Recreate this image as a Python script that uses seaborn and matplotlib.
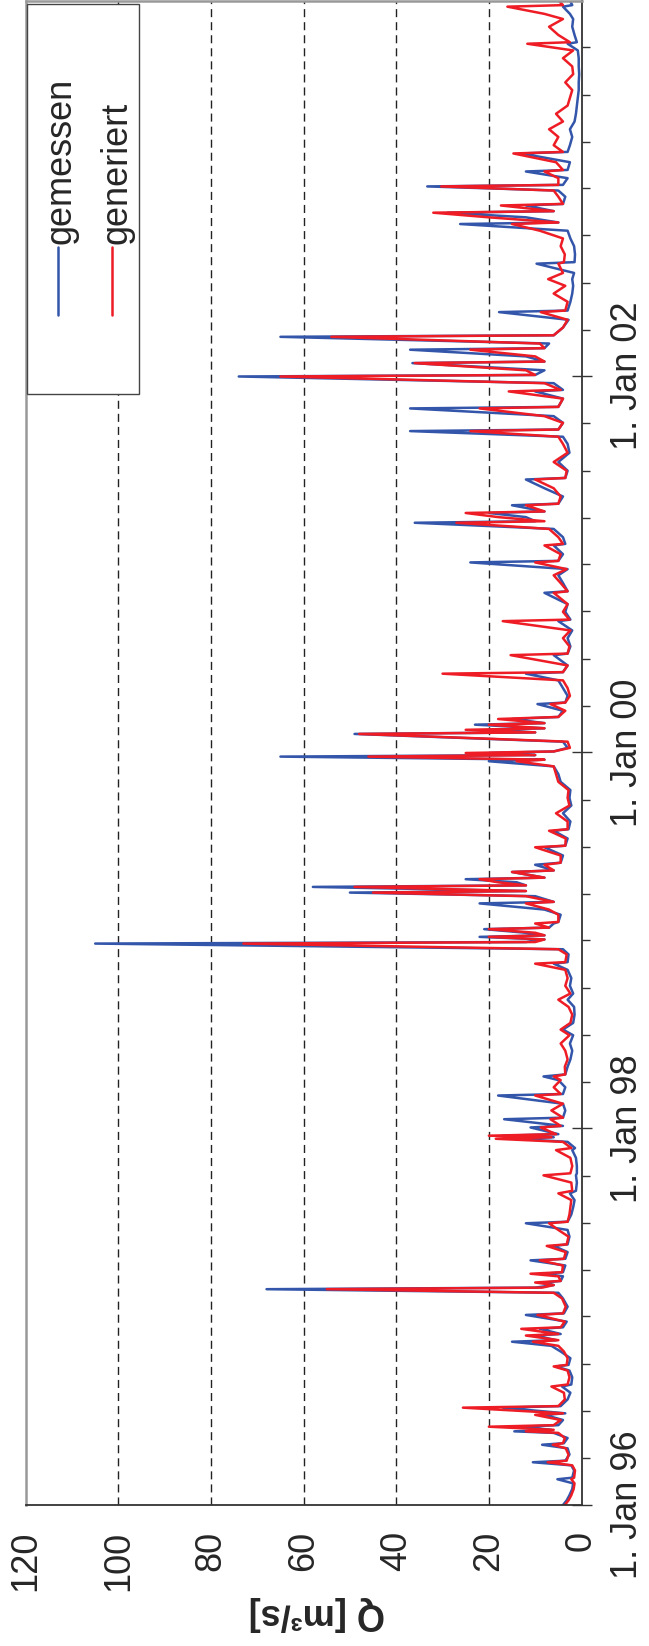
import matplotlib
matplotlib.use("Agg")
import matplotlib.pyplot as plt
import matplotlib.dates as mdates
from matplotlib.ticker import MultipleLocator
from matplotlib.patches import Rectangle
import pandas as pd
import seaborn as sns

# Abfluss, gemessen vs. generiert
dates = [
    # 1996
    "1996-01-01", "1996-01-10", "1996-01-20", "1996-02-01", "1996-02-12", "1996-02-20", "1996-02-23", "1996-03-08", "1996-03-18", "1996-03-24",
    "1996-03-27", "1996-04-08", "1996-04-20", "1996-04-27", "1996-04-30", "1996-05-10", "1996-05-20", "1996-05-23", "1996-05-26", "1996-06-01",
    "1996-06-04", "1996-06-14", "1996-06-24", "1996-06-27", "1996-07-08", "1996-07-11", "1996-07-24", "1996-08-06", "1996-08-18", "1996-08-22",
    "1996-09-05", "1996-09-18", "1996-09-26", "1996-09-29", "1996-10-12", "1996-10-25", "1996-11-05", "1996-11-13", "1996-11-16", "1996-11-25",
    "1996-11-28", "1996-12-08", "1996-12-11", "1996-12-22",
    # 1997
    "1997-01-04", "1997-01-07", "1997-01-20", "1997-02-05", "1997-02-16", "1997-02-23", "1997-02-26", "1997-03-03", "1997-03-08", "1997-03-11",
    "1997-03-20", "1997-03-25", "1997-03-28", "1997-04-10", "1997-04-20", "1997-04-23", "1997-05-06", "1997-05-18", "1997-05-21", "1997-06-05",
    "1997-06-18", "1997-07-01", "1997-07-04", "1997-07-18", "1997-08-01", "1997-08-15", "1997-08-28", "1997-09-02", "1997-09-18", "1997-10-02",
    "1997-10-06", "1997-10-20", "1997-11-05", "1997-11-20", "1997-11-24", "1997-12-06", "1997-12-12", "1997-12-15", "1997-12-18", "1997-12-21",
    # 1998
    "1998-01-03", "1998-01-06", "1998-01-19", "1998-01-22", "1998-02-05", "1998-02-18", "1998-03-06", "1998-03-09", "1998-03-22", "1998-04-05",
    "1998-04-12", "1998-04-16", "1998-05-01", "1998-05-15", "1998-06-01", "1998-06-15", "1998-07-01", "1998-07-12", "1998-07-25", "1998-08-10",
    "1998-08-25", "1998-09-08", "1998-09-20", "1998-10-05", "1998-10-20", "1998-11-05", "1998-11-17", "1998-11-20", "1998-12-05", "1998-12-15",
    "1998-12-26", "1998-12-29",
    # 1999
    "1999-01-03", "1999-01-08", "1999-01-11", "1999-01-16", "1999-01-23", "1999-01-26", "1999-02-03", "1999-02-06", "1999-02-20", "1999-03-02",
    "1999-03-14", "1999-03-17", "1999-03-28", "1999-04-04", "1999-04-07", "1999-04-15", "1999-04-18", "1999-04-24", "1999-04-30", "1999-05-03",
    "1999-05-14", "1999-05-17", "1999-05-28", "1999-06-01", "1999-06-15", "1999-07-01", "1999-07-04", "1999-07-18", "1999-08-02", "1999-08-05",
    "1999-08-20", "1999-09-05", "1999-09-20", "1999-10-05", "1999-10-20", "1999-11-05", "1999-11-20", "1999-12-05", "1999-12-15", "1999-12-18",
    "1999-12-24", "1999-12-27", "1999-12-31",
    # 2000
    "2000-01-03", "2000-01-10", "2000-01-22", "2000-02-06", "2000-02-09", "2000-02-14", "2000-02-17", "2000-02-24", "2000-02-27", "2000-03-06",
    "2000-03-10", "2000-03-22", "2000-04-04", "2000-04-07", "2000-04-20", "2000-05-05", "2000-05-20", "2000-06-02", "2000-06-05", "2000-06-18",
    "2000-07-08", "2000-07-11", "2000-07-25", "2000-08-10", "2000-08-25", "2000-09-12", "2000-09-15", "2000-09-30", "2000-10-15", "2000-11-06",
    "2000-11-09", "2000-11-25", "2000-12-10", "2000-12-22",
    # 2001
    "2001-01-04", "2001-01-07", "2001-01-20", "2001-02-06", "2001-02-09", "2001-02-22", "2001-03-10", "2001-03-22", "2001-03-25", "2001-04-02",
    "2001-04-10", "2001-04-13", "2001-04-25", "2001-04-28", "2001-05-12", "2001-05-28", "2001-06-14", "2001-06-17", "2001-07-01", "2001-07-18",
    "2001-08-05", "2001-08-22", "2001-09-05", "2001-09-16", "2001-09-19", "2001-10-02", "2001-10-15", "2001-10-30", "2001-11-02", "2001-11-18",
    "2001-12-02", "2001-12-05", "2001-12-18", "2001-12-31",
    # 2002
    "2002-01-03", "2002-01-12", "2002-01-26", "2002-01-29", "2002-02-08", "2002-02-21", "2002-02-24", "2002-03-05", "2002-03-18", "2002-03-21",
    "2002-04-05", "2002-04-20", "2002-05-05", "2002-05-08", "2002-05-25", "2002-06-10", "2002-06-25", "2002-07-08", "2002-07-20", "2002-08-07",
    "2002-08-10", "2002-08-25", "2002-09-10", "2002-09-25", "2002-10-10", "2002-10-23", "2002-10-26", "2002-11-05", "2002-11-14", "2002-11-17",
    "2002-11-28", "2002-12-01", "2002-12-15", "2002-12-27",
    # 2003
    "2003-01-04", "2003-01-07", "2003-01-20", "2003-02-02", "2003-02-05", "2003-02-20", "2003-03-09", "2003-03-12", "2003-03-25", "2003-04-10",
    "2003-04-25", "2003-05-10", "2003-05-25", "2003-06-10", "2003-06-25", "2003-07-10", "2003-07-25", "2003-08-10", "2003-08-25", "2003-09-10",
    "2003-09-25", "2003-10-08", "2003-10-11", "2003-10-25", "2003-11-10", "2003-11-25", "2003-12-05", "2003-12-19", "2003-12-22", "2003-12-31",
]

gemessen = [
    # 1996
    4.0, 3.2, 2.6, 2.0, 1.8, 5.2, 2.0, 1.6, 2.2, 10.5,
    3.5, 2.6, 3.0, 8.5, 3.8, 3.0, 6.0, 14.5, 6.5, 13.0,
    5.0, 4.0, 8.0, 3.5, 17.0, 4.5, 3.0, 2.4, 4.2, 2.2,
    2.0, 2.6, 5.5, 2.8, 2.4, 4.5, 6.5, 15.0, 5.5, 10.0,
    4.5, 9.0, 4.0, 3.2,
    # 1997
    12.0, 3.8, 3.0, 4.0, 5.0, 68.0, 10.0, 6.0, 8.0, 4.5,
    4.0, 8.0, 4.0, 3.5, 11.0, 3.5, 3.0, 6.0, 3.0, 2.6,
    3.0, 12.0, 3.0, 2.2, 1.8, 1.5, 2.5, 1.2, 1.0, 1.2,
    1.0, 1.0, 1.2, 2.0, 1.4, 3.0, 14.0, 6.0, 17.0, 5.0,
    # 1998
    11.0, 4.0, 16.7, 4.0, 3.5, 4.0, 18.0, 4.0, 3.5, 5.0,
    8.2, 3.5, 3.0, 2.4, 2.0, 2.5, 1.8, 4.0, 1.8, 1.5,
    1.6, 3.0, 1.8, 2.5, 2.2, 3.0, 6.0, 3.0, 2.8, 4.0,
    105.0, 12.0,
    # 1999
    8.0, 22.0, 8.0, 12.0, 21.0, 7.0, 6.0, 5.0, 4.5, 8.0,
    22.0, 6.0, 10.0, 50.0, 12.0, 58.0, 12.0, 14.0, 25.0, 8.0,
    15.0, 6.0, 10.0, 4.5, 4.0, 8.0, 3.5, 3.0, 6.0, 2.8,
    2.4, 4.0, 2.2, 2.6, 2.4, 4.5, 5.0, 6.0, 20.0, 8.0,
    65.0, 10.0, 20.0,
    # 2000
    6.0, 3.0, 4.0, 49.0, 10.0, 20.0, 8.0, 23.0, 8.0, 15.0,
    5.0, 4.0, 9.5, 3.5, 3.0, 4.0, 5.0, 12.0, 4.0, 3.0,
    6.0, 3.0, 2.4, 3.0, 2.0, 5.0, 2.4, 3.5, 3.0, 8.0,
    3.0, 4.0, 5.0, 3.0,
    # 2001
    24.0, 5.0, 4.0, 6.0, 3.5, 4.0, 6.0, 36.0, 10.0, 12.0,
    20.0, 8.0, 15.0, 5.0, 4.0, 8.0, 12.0, 3.5, 3.0, 5.0,
    2.6, 3.0, 4.0, 37.0, 5.0, 4.0, 6.0, 37.0, 5.0, 4.0,
    10.0, 4.0, 6.0, 74.0,
    # 2002
    10.0, 8.0, 36.5, 8.0, 12.0, 37.0, 8.0, 7.0, 65.0, 6.0,
    4.0, 2.8, 17.8, 3.0, 2.4, 2.0, 1.8, 2.0, 1.6, 9.7,
    1.5, 1.4, 1.6, 2.4, 3.0, 26.2, 5.0, 12.0, 28.9, 6.0,
    12.0, 4.0, 3.5, 5.0,
    # 2003
    33.3, 4.0, 3.0, 12.0, 3.0, 2.5, 13.0, 3.0, 2.5, 2.0,
    2.5, 1.5, 1.2, 1.0, 0.8, 0.6, 0.6, 0.5, 0.6, 0.6,
    0.8, 3.0, 1.0, 1.5, 2.0, 1.8, 2.5, 4.0, 2.0, 2.5,
]

generiert = [
    # 1996
    3.6, 2.8, 2.2, 1.7, 1.5, 2.2, 1.6, 1.4, 2.0, 7.3,
    3.2, 2.8, 3.4, 6.2, 4.0, 3.6, 5.0, 12.0, 6.0, 20.0,
    6.0, 4.5, 10.0, 4.0, 25.6, 5.0, 3.6, 3.8, 6.5, 3.0,
    2.6, 3.0, 6.0, 3.2, 3.0, 3.8, 5.0, 10.5, 5.0, 12.0,
    5.0, 13.0, 4.5, 3.6,
    # 1997
    9.5, 4.0, 3.4, 4.2, 6.0, 55.0, 8.5, 6.0, 10.0, 4.5,
    5.0, 11.0, 4.2, 4.0, 9.0, 3.8, 3.4, 7.5, 3.2, 2.8,
    5.0, 7.0, 3.0, 2.6, 2.4, 2.2, 5.0, 2.0, 2.2, 8.2,
    2.4, 2.0, 2.4, 5.5, 2.2, 4.0, 18.5, 6.5, 20.0, 5.5,
    # 1998
    8.8, 4.5, 6.7, 4.0, 6.5, 4.0, 10.0, 4.5, 6.0, 4.5,
    6.0, 3.5, 3.6, 3.0, 3.5, 4.5, 2.6, 4.5, 2.4, 2.0,
    2.8, 5.0, 2.4, 3.5, 3.0, 3.5, 10.0, 3.5, 3.2, 5.0,
    73.0, 10.0,
    # 1999
    8.0, 20.0, 8.0, 10.0, 20.0, 7.0, 10.0, 5.0, 5.0, 7.0,
    12.0, 6.0, 12.0, 45.0, 12.0, 49.0, 12.0, 18.0, 22.0, 8.0,
    15.0, 6.0, 8.0, 4.5, 4.5, 10.0, 3.5, 3.4, 7.0, 3.0,
    3.0, 5.5, 2.6, 3.0, 2.8, 5.0, 5.5, 6.0, 14.0, 8.0,
    46.0, 10.0, 25.0,
    # 2000
    6.0, 2.5, 3.0, 48.0, 10.0, 25.0, 8.0, 20.0, 8.0, 18.0,
    5.0, 3.5, 6.7, 3.5, 2.5, 3.0, 4.0, 30.0, 4.0, 3.0,
    15.3, 3.0, 2.6, 4.0, 2.4, 17.0, 2.6, 4.0, 3.0, 6.0,
    3.0, 4.5, 6.0, 3.2,
    # 2001
    10.0, 5.0, 4.5, 8.0, 4.0, 5.0, 7.0, 27.0, 8.0, 18.0,
    25.0, 8.0, 12.0, 5.0, 4.5, 6.0, 10.0, 3.5, 3.2, 6.0,
    3.0, 4.0, 5.0, 24.0, 5.0, 4.0, 8.0, 22.0, 5.0, 4.0,
    15.7, 4.5, 8.0, 65.0,
    # 2002
    10.0, 12.0, 36.0, 8.0, 10.0, 24.0, 8.0, 9.0, 54.0, 6.0,
    4.0, 3.0, 8.8, 3.5, 3.0, 6.0, 3.5, 7.2, 4.0, 5.0,
    3.8, 3.6, 4.5, 4.0, 9.0, 15.0, 5.0, 20.0, 32.0, 6.0,
    17.4, 4.0, 5.0, 6.0,
    # 2003
    30.3, 5.0, 5.0, 8.0, 4.0, 5.5, 14.7, 4.0, 6.0, 5.0,
    7.0, 4.0, 5.5, 3.0, 2.5, 2.0, 3.5, 1.8, 2.0, 4.0,
    1.8, 11.7, 2.5, 5.0, 7.0, 4.0, 8.0, 16.0, 4.0, 5.0,
]

q_ticks = [0, 20, 40, 60, 80, 100, 120]
grid_q = [20, 40, 60, 80, 100]
series_labels = ["gemessen", "generiert"]
series_colors = ["#3355aa", "#ee1c25"]

df = pd.DataFrame({
    "Datum": pd.to_datetime(dates),
    "gemessen": gemessen,
    "generiert": generiert,
})

sns.set_style("white")
plt.rcParams["font.family"] = ["Liberation Sans", "DejaVu Sans"]

W, H = 649, 1646
fig = plt.figure(figsize=(W / 100, H / 100), dpi=100)
# the chart is turned on its side: Q runs right-to-left, time bottom-to-top
ax_l, ax_r, ax_b, ax_t = 25.7, 581.5, 1505, 1.0
ax = fig.add_axes([ax_l / W, (H - ax_b) / H, (ax_r - ax_l) / W, (ax_b - ax_t) / H])

for name, col in zip(series_labels, series_colors):
    sns.lineplot(data=df, x=name, y="Datum", orient="y", sort=False,
                 estimator=None, color=col, lw=1.8, ax=ax)

ax.set_xlim(120, 0)
ax.set_ylim(pd.Timestamp("1996-01-01"), pd.Timestamp("2003-12-30"))

for q in grid_q:
    ax.axvline(q, color="#222222", lw=1.0, ls=(0, (5.8, 3.6)), zorder=0)

# value axis (bottom)
ax.xaxis.set_major_locator(MultipleLocator(20))
ax.xaxis.set_minor_locator(MultipleLocator(5))
ax.tick_params(axis="x", which="major", direction="inout", length=14.4, width=1.0,
               color="#333333", labelsize=26, labelrotation=90, pad=11.5)
ax.tick_params(axis="x", which="minor", direction="out", length=6.5, width=1.0,
               color="#333333")

# time axis (right)
ax.yaxis.tick_right()
ax.yaxis.set_major_locator(mdates.YearLocator(2))
ax.yaxis.set_minor_locator(mdates.MonthLocator(bymonth=[1, 4, 7, 10]))
ax.yaxis.set_major_formatter(mdates.DateFormatter("1. %b %y"))
ax.tick_params(axis="y", which="major", direction="inout", length=14.4, width=1.0,
               color="#333333", labelsize=26, labelrotation=90, pad=13)
ax.tick_params(axis="y", which="minor", direction="out", length=5.8, width=1.0,
               color="#333333")
for tick in ax.yaxis.get_major_ticks():
    tick.label2.set_va("center")

ax.set_ylabel("")
ax.set_xlabel("Q [m³/s]", fontsize=26, fontweight="bold", rotation=180,
              ha="center", va="center")
ax.xaxis.set_label_coords((317 - ax_l) / (ax_r - ax_l), (ax_b - 1614) / (ax_b - ax_t))

for side in ["right", "bottom"]:
    ax.spines[side].set_color("#333333")
    ax.spines[side].set_linewidth(1.3)
for side in ["top", "left"]:
    ax.spines[side].set_color("#999999")
    ax.spines[side].set_linewidth(1.8)


def to_ax(px, py):
    return (px - ax_l) / (ax_r - ax_l), (ax_b - py) / (ax_b - ax_t)


# legend box, drawn by hand because it is rotated too
bx0, by0 = to_ax(27, 394)
bx1, by1 = to_ax(139, 4)
ax.add_patch(Rectangle((bx0, by0), bx1 - bx0, by1 - by0, transform=ax.transAxes,
                       facecolor="white", edgecolor="#444444", lw=1.0, zorder=5))
for name, col, lx, tx in zip(series_labels, series_colors, [58, 112], [70, 126]):
    x0, y0 = to_ax(lx, 315)
    _, y1 = to_ax(lx, 247)
    ax.plot([x0, x0], [y0, y1], transform=ax.transAxes, color=col, lw=1.8, zorder=6)
    txx, txy = to_ax(tx, 244)
    ax.text(txx, txy, name, transform=ax.transAxes, rotation=90, rotation_mode="anchor",
            ha="left", va="baseline", fontsize=26, zorder=6)

fig.savefig("out.png", dpi=100)
